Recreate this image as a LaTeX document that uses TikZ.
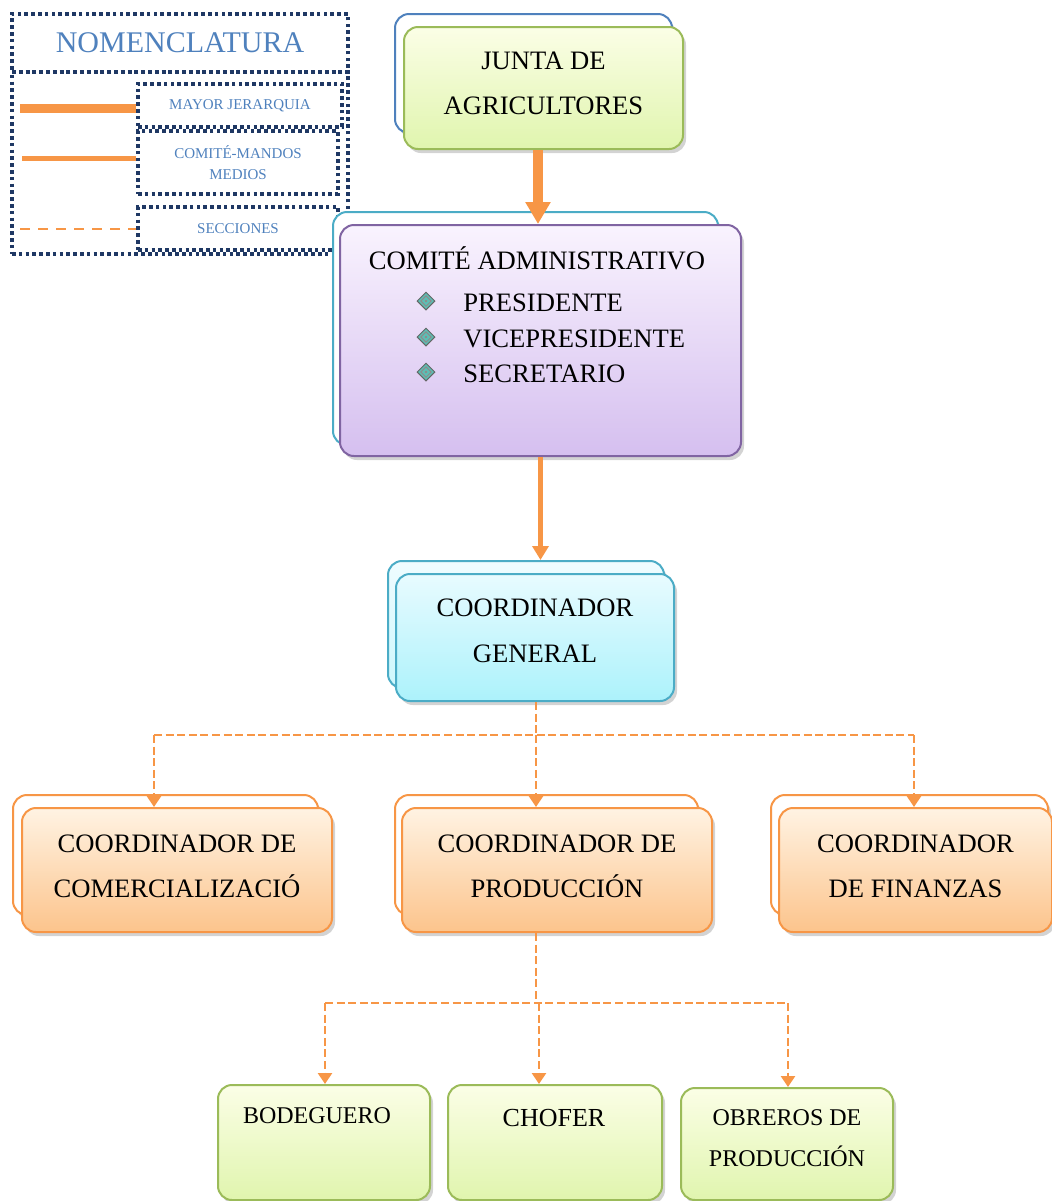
\documentclass[tikz,border=0pt]{standalone}
\usepackage{fontspec}
\setmainfont{Liberation Serif}
\usepackage{xcolor}
\definecolor{legnavy}{HTML}{1F3864}
\definecolor{legblue}{HTML}{4F81BD}
\definecolor{orgline}{HTML}{F79646}
\definecolor{grnline}{HTML}{9BBB59}
\definecolor{purline}{HTML}{8064A2}
\definecolor{cyaline}{HTML}{4BACC6}
\definecolor{grntop}{HTML}{FBFEE6}
\definecolor{grnbot}{HTML}{E0F5AE}
\definecolor{purtop}{HTML}{F9F3FE}
\definecolor{purbot}{HTML}{D5BFEF}
\definecolor{cyatop}{HTML}{E8FBFF}
\definecolor{cyabot}{HTML}{ACF2FB}
\definecolor{orgtop}{HTML}{FFF3E3}
\definecolor{orgbot}{HTML}{FCC48C}
\definecolor{bullteal}{HTML}{5BBFB5}
\usepackage{tikz}
\usetikzlibrary{arrows.meta, shapes.geometric, shadows}

\begin{document}
\begin{tikzpicture}[
  x=0.5pt, y=-0.5pt,
  legbox/.style={
    draw=legnavy, line width=1.8pt, dash pattern=on 1.8pt off 1.6pt,
    inner sep=0pt, align=center, text=legblue
  },
  card/.style={
    rounded corners=7pt, line width=1pt, align=center,
    font=\fontsize{13.3}{22.5}\selectfont,
    drop shadow={opacity=0.35, shadow xshift=1.5pt, shadow yshift=-2pt}
  },
  backcard/.style={card, fill=white},
  greencard/.style={card, draw=grnline, top color=grntop, bottom color=grnbot},
  purplecard/.style={card, draw=purline, top color=purtop, bottom color=purbot},
  cyancard/.style={card, draw=cyaline, top color=cyatop, bottom color=cyabot},
  orangecard/.style={card, draw=orgline, top color=orgtop, bottom color=orgbot},
  bulletmark/.style={
    diamond, draw=gray!80!black, line width=0.5pt, fill=bullteal,
    minimum width=9pt, minimum height=9pt, inner sep=0pt,
    path picture={
      \draw[gray!90, line width=0.5pt] (path picture bounding box.center)
        +(0,2.6pt) -- +(2.6pt,0) -- +(0,-2.6pt) -- +(-2.6pt,0) -- cycle;
      \fill[gray!90] (path picture bounding box.center) circle (0.7pt);
    }
  },
  bigarrow/.style={-{Triangle[length=11pt, width=12pt]}, line width=5pt, orgline},
  midarrow/.style={-{Triangle[length=7pt, width=8pt]}, line width=2.5pt, orgline},
  secline/.style={orgline, line width=1.3pt, dash pattern=on 4pt off 1.8pt},
  secarrow/.style={secline, -{Triangle[length=5.5pt, width=7pt]}},
  lmayor/.style={orgline, line width=4.5pt},
  lmandos/.style={orgline, line width=2.5pt},
  lsecc/.style={orgline, line width=1pt, dash pattern=on 5pt off 4pt}
]

\useasboundingbox (0,0) rectangle (1052,1201);

% ---- Nomenclatura ----
\node[legbox, minimum width=168pt, minimum height=91pt] (legframe) at (180,163) {};
\node[legbox, minimum width=168pt, minimum height=29pt,
  font=\fontsize{15}{18}\selectfont] (legtitle) at (180,43) {NOMENCLATURA};
\node[legbox, minimum width=102pt, minimum height=21.5pt,
  font=\fontsize{7.5}{10.5}\selectfont] (mayor) at (240,105.5) {MAYOR JERARQUIA};
\node[legbox, minimum width=100pt, minimum height=31.5pt,
  font=\fontsize{7.5}{10.5}\selectfont] (mandos) at (238,162.5) {COMITÉ-MANDOS\\MEDIOS};
\node[legbox, minimum width=100pt, minimum height=21.5pt,
  font=\fontsize{7.5}{10.5}\selectfont] (secc) at (238,228.5) {SECCIONES};

\coordinate (lmay) at (20,108);
\coordinate (lman) at (22,158);
\coordinate (lsec) at (20,229);
\draw[lmayor] (lmay) -- (lmay -| mayor.west);
\draw[lmandos] (lman) -- (lman -| mandos.west);
\draw[lsecc] (lsec) -- (lsec -| secc.west);

% ---- Junta de agricultores ----
\node[backcard, draw=legblue, minimum width=138.5pt, minimum height=59.5pt] (juntab) at (533.5,73.5) {};
\node[greencard, minimum width=139.5pt, minimum height=61pt, text depth=5pt] (junta) at (543.5,88) {JUNTA DE\\AGRICULTORES};

% ---- Comité administrativo ----
\node[backcard, draw=cyaline, minimum width=192.5pt, minimum height=116.5pt] (comb) at (525.5,328.5) {};
\node[purplecard, minimum width=200.5pt, minimum height=115.5pt] (com) at (540.5,340.5) {};
\node[font=\fontsize{13.3}{16}\selectfont] (comtit) at (537,258) {COMITÉ ADMINISTRATIVO};
\node[bulletmark] (bpres) at (426,301) {};
\node[bulletmark] (bvice) at (426,337) {};
\node[bulletmark] (bsecr) at (426,372) {};
\node[font=\fontsize{13.3}{16}\selectfont, anchor=west, inner sep=0pt] (pres) at (463,303) {PRESIDENTE};
\node[font=\fontsize{13.3}{16}\selectfont, anchor=west, inner sep=0pt] (vice) at (463,339) {VICEPRESIDENTE};
\node[font=\fontsize{13.3}{16}\selectfont, anchor=west, inner sep=0pt] (secr) at (463,374) {SECRETARIO};

% ---- Coordinador general ----
\node[cyancard, top color=cyatop!70, bottom color=cyabot!60, minimum width=138pt, minimum height=63.5pt] (cgb) at (526,624.5) {};
\node[cyancard, minimum width=139pt, minimum height=63.5pt, text depth=7pt,
  font=\fontsize{13.3}{23}\selectfont] (cg) at (535,637.5) {COORDINADOR\\GENERAL};

% ---- Coordinadores ----
\node[backcard, draw=orgline, minimum width=152.5pt, minimum height=60pt] (cocb) at (165.5,855) {};
\node[orangecard, minimum width=155pt, minimum height=62pt, text depth=4pt] (coc) at (177,870) {COORDINADOR DE\\COMERCIALIZACIÓ};

\node[backcard, draw=orgline, minimum width=151.5pt, minimum height=60pt] (copb) at (546.5,855) {};
\node[orangecard, minimum width=155pt, minimum height=62pt, text depth=4pt] (cop) at (557,870) {COORDINADOR DE\\PRODUCCIÓN};

\node[backcard, draw=orgline, minimum width=138.5pt, minimum height=60pt] (cofb) at (909.5,855) {};
\node[orangecard, minimum width=136.5pt, minimum height=62pt, text depth=4pt] (cof) at (915.5,870) {COORDINADOR\\DE FINANZAS};

% ---- Secciones de producción ----
\node[greencard, minimum width=106pt, minimum height=57.5pt] (bod) at (324,1142.5) {};
\node[greencard, minimum width=107pt, minimum height=57.5pt] (cho) at (555,1142.5) {};
\node[greencard, minimum width=106pt, minimum height=56pt] (obr) at (787,1144) {};
\node[font=\fontsize{12}{20.5}\selectfont] (bodtxt) at (317,1116) {BODEGUERO};
\node[font=\fontsize{13}{20.5}\selectfont] (chotxt) at (554,1118) {CHOFER};
\node[font=\fontsize{12}{20.5}\selectfont, align=center] (obrtxt) at (787,1138.5) {OBREROS DE\\PRODUCCIÓN};

% Flechas de mayor jerarquia y mandos medios
\draw[bigarrow] ([xshift=-2.75pt]junta.south) -- ([xshift=-2.75pt]junta.south |- com.north);
\draw[midarrow] (com.south) -- (com.south |- cgb.north);

% Secciones: coordinador general
\coordinate (t1) at (536,735);
\coordinate (t1l) at (154,735);
\coordinate (t1r) at (914,735);
\draw[secline] (t1 |- cg.south) -- (t1);
\draw[secline] (t1l) -- (t1r);
\draw[secarrow] (t1l) -- (t1l |- coc.north);
\draw[secarrow] (t1) -- (t1 |- cop.north);
\draw[secarrow] (t1r) -- (t1r |- cof.north);

% Secciones: coordinador de produccion
\coordinate (t2) at (536,1003);
\coordinate (t2l) at (325,1003);
\coordinate (t2r) at (788,1003);
\draw[secline] (t2 |- cop.south) -- (t2);
\draw[secline] (t2l) -- (t2r);
\draw[secarrow] (t2l) -- (t2l |- bod.north);
\draw[secarrow] ([xshift=1.5pt]t2) -- ([xshift=1.5pt]t2 |- cho.north);
\draw[secarrow] (t2r) -- (t2r |- obr.north);

\end{tikzpicture}
\end{document}
